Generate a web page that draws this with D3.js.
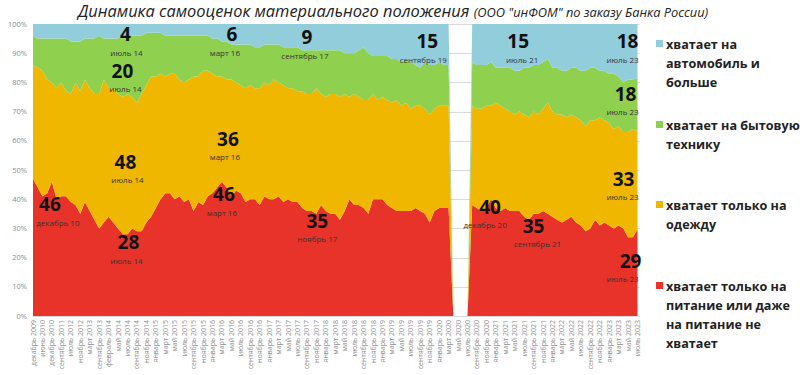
<!DOCTYPE html>
<html>
<head>
<meta charset="utf-8">
<script src="https://cdn.jsdelivr.net/npm/d3@7"></script>
<style>
  body { margin: 0; background: #fff; }
  svg { display: block; font-family: "Open Sans", sans-serif; }
  .grid line { stroke: #d9d9d9; stroke-width: 1; }
  .tick-y { font-size: 7.5px; fill: #8c8c8c; }
  .tick-x { font-size: 7px; fill: #8c8c8c; }
  .num { font-size: 19px; font-weight: 700; fill: #111; }
  .sub { font-size: 8px; fill: #333; }
  .legend text { font-size: 12.6px; font-weight: 700; fill: #222; }
</style>
</head>
<body>
<svg width="800" height="375"></svg>
<script>
// survey dates (labels shown for every second one)
const months = [
  "декабрь 2009","март 2010","июнь 2010","сентябрь 2010","декабрь 2010","май 2011","сентябрь 2011","март 2012","июль 2012","сентябрь 2012",
  "ноябрь 2012","январь 2013","март 2013","июнь 2013","сентябрь 2013","декабрь 2013","февраль 2014","апрель 2014","май 2014","июнь 2014",
  "июль 2014","август 2014","сентябрь 2014","октябрь 2014","ноябрь 2014","декабрь 2014",
  "январь 2015","февраль 2015","март 2015","апрель 2015","май 2015","июнь 2015","июль 2015","август 2015","сентябрь 2015","октябрь 2015","ноябрь 2015","декабрь 2015",
  "январь 2016","февраль 2016","март 2016","апрель 2016","май 2016","июнь 2016","июль 2016","август 2016","сентябрь 2016","октябрь 2016","ноябрь 2016","декабрь 2016",
  "январь 2017","февраль 2017","март 2017","апрель 2017","май 2017","июнь 2017","июль 2017","август 2017","сентябрь 2017","октябрь 2017","ноябрь 2017","декабрь 2017",
  "январь 2018","февраль 2018","март 2018","апрель 2018","май 2018","июнь 2018","июль 2018","август 2018","сентябрь 2018","октябрь 2018","ноябрь 2018","декабрь 2018",
  "январь 2019","февраль 2019","март 2019","апрель 2019","май 2019","июнь 2019","июль 2019","август 2019","сентябрь 2019","октябрь 2019","ноябрь 2019","декабрь 2019",
  "январь 2020","февраль 2020","март 2020","апрель 2020","май 2020","июнь 2020","июль 2020","август 2020","сентябрь 2020","октябрь 2020","ноябрь 2020","декабрь 2020",
  "январь 2021","февраль 2021","март 2021","апрель 2021","май 2021","июнь 2021","июль 2021","август 2021","сентябрь 2021","октябрь 2021","ноябрь 2021","декабрь 2021",
  "январь 2022","февраль 2022","март 2022","апрель 2022","май 2022","июнь 2022","июль 2022","август 2022","сентябрь 2022","октябрь 2022","ноябрь 2022","декабрь 2022",
  "январь 2023","февраль 2023","март 2023","апрель 2023","май 2023","июнь 2023","июль 2023"
];

// shares, % (null = no survey)
const food = [
  47,44,41,42,46,40,41,41,39,38,
  35,39,36,33,30,32,34,32,30,28,
  28,30,29,29,32,34,37,40,42,42,
  40,41,39,40,36,39,38,41,42,44,
  46,44,41,43,42,39,40,40,38,41,
  40,40,41,39,40,39,39,37,36,36,
  35,38,36,35,35,33,36,40,38,38,
  37,35,40,40,40,38,37,36,36,36,
  36,37,36,35,32,36,37,37,37,null,
  null,null,null,38,37,36,37,40,37,36,
  37,36,36,36,34,33,35,35,36,35,
  34,33,32,33,34,32,31,29,30,33,
  31,32,31,30,31,30,27,27,29
];
const clothes = [
  39,41,43,39,34,38,39,36,37,42,
  42,42,42,43,46,49,44,46,46,47,
  48,45,44,47,47,48,45,43,40,41,
  43,40,41,41,46,43,46,43,41,38,
  36,37,40,37,37,39,39,38,40,39,
  39,41,39,40,38,39,38,40,40,40,
  43,38,39,41,41,42,40,35,38,37,
  37,39,36,34,35,36,36,38,36,37,
  35,35,36,36,37,35,35,35,35,null,
  null,null,null,34,34,35,35,32,36,36,
  34,34,33,34,35,35,35,34,35,38,
  36,36,37,35,35,36,36,36,37,34,
  37,35,35,34,34,33,36,37,33
];
const appliances = [
  10,10,11,14,15,17,15,18,18,14,
  17,14,17,19,20,14,17,17,19,21,
  20,21,23,20,18,15,15,14,14,13,
  13,15,16,15,14,14,12,12,12,13,
  12,13,12,13,14,15,14,14,14,13,
  14,12,13,13,14,14,15,14,15,15,
  13,15,16,15,15,16,14,15,14,16,
  18,16,13,15,14,15,15,14,15,15,
  16,14,13,16,17,15,15,14,14,null,
  null,null,null,15,15,15,14,15,12,13,
  14,15,15,14,16,17,16,17,16,15,
  15,16,15,16,16,17,17,19,18,18,
  16,17,17,19,17,17,18,17,18
];
const car = [
  4,5,5,5,5,5,5,5,6,6,
  6,5,5,5,4,5,5,5,5,4,
  4,4,4,4,3,3,3,3,4,4,
  4,4,4,4,4,4,4,4,5,5,
  6,6,7,7,7,7,7,8,8,7,
  7,7,7,8,8,8,8,9,9,9,
  9,9,9,9,9,9,10,10,10,9,
  8,10,11,11,11,11,12,12,13,12,
  13,14,15,13,14,14,13,14,14,null,
  null,null,null,13,14,14,14,13,15,15,
  15,15,16,16,15,15,14,14,13,12,
  15,15,16,16,15,15,16,16,15,15,
  16,16,17,17,18,20,19,19,18
];

const keys = ["food", "clothes", "appliances", "car"];
const colors = { food: "#e8332a", clothes: "#efb700", appliances: "#8fd14f", car: "#92cddc" };
const legendLines = {
  car: ["хватает на", "автомобиль и", "больше"],
  appliances: ["хватает на бытовую", "технику"],
  clothes: ["хватает только на", "одежду"],
  food: ["хватает только на", "питание или даже", "на питание не", "хватает"]
};
const legendOrder = ["car", "appliances", "clothes", "food"];
const legendTop = [49, 130, 210, 291];

const yTicks = [0, .1, .2, .3, .4, .5, .6, .7, .8, .9, 1];

// callouts: value, month caption, survey date, vertical place (share), nudges
const notes = [
  { v: "4",  t: "июль 14",     d: "июль 2014",     at: .962, dx: -2,  tdx: -1 },
  { v: "20", t: "июль 14",     d: "июль 2014",     at: .836, dx: -5,  tdx: -2 },
  { v: "48", t: "июль 14",     d: "июль 2014",     at: .524, dx: -2,  tdx: 0 },
  { v: "28", t: "июль 14",     d: "июль 2014",     at: .25,  dx: 1,   tdx: -1 },
  { v: "46", t: "декабрь 10",  d: "декабрь 2010",  at: .38,  dx: -2,  tdx: 6 },
  { v: "6",  t: "март 16",     d: "март 2016",     at: .962, dx: 10,  tdx: 3 },
  { v: "36", t: "март 16",     d: "март 2016",     at: .603, dx: 6,   tdx: 3 },
  { v: "46", t: "март 16",     d: "март 2016",     at: .414, dx: 2,   tdx: 0 },
  { v: "9",  t: "сентябрь 17", d: "сентябрь 2017", at: .952, dx: 0,   tdx: -2 },
  { v: "35", t: "ноябрь 17",   d: "ноябрь 2017",   at: .322, dx: 1,   tdx: 1 },
  { v: "15", t: "сентябрь 19", d: "сентябрь 2019", at: .938, dx: 7,   tdx: 3 },
  { v: "40", t: "декабрь 20",  d: "декабрь 2020",  at: .37,  dx: -1,  tdx: -6 },
  { v: "15", t: "июль 21",     d: "июль 2021",     at: .938, dx: -6,  tdx: -2 },
  { v: "35", t: "сентябрь 21", d: "сентябрь 2021", at: .305, dx: 0,   tdx: 4 },
  { v: "18", t: "июль 23",     d: "июль 2023",     at: .938, dx: -10, tdx: -15 },
  { v: "18", t: "июль 23",     d: "июль 2023",     at: .757, dx: -12, tdx: -15 },
  { v: "33", t: "июль 23",     d: "июль 2023",     at: .466, dx: -14, tdx: -15 },
  { v: "29", t: "июль 23",     d: "июль 2023",     at: .185, dx: -7,  tdx: -15 }
];

const svg = d3.select("svg");
const plotL = 33, plotR = 637.5, plotT = 24, plotB = 316;

const x = d3.scalePoint().domain(months).range([plotL, plotR]);
const y = d3.scaleLinear().domain([0, 1]).range([plotB, plotT]);

const rows = months.map((m, i) => ({
  m, food: food[i] || 0, clothes: clothes[i] || 0,
  appliances: appliances[i] || 0, car: car[i] || 0
}));
const series = d3.stack().keys(keys).offset(d3.stackOffsetExpand)(rows);

// grid
svg.append("g").attr("class", "grid")
  .selectAll("line").data(yTicks).join("line")
  .attr("x1", plotL).attr("x2", plotR + 2)
  .attr("y1", d => Math.round(y(d)) + .5).attr("y2", d => Math.round(y(d)) + .5);

const area = d3.area()
  .x(d => x(d.data.m))
  .y0(d => y(d[0]))
  .y1(d => y(d[1]));

svg.append("g").selectAll("path").data(series).join("path")
  .attr("fill", d => colors[d.key])
  .attr("d", area);

// y labels
svg.append("g").selectAll("text").data(yTicks).join("text")
  .attr("class", "tick-y")
  .attr("x", 27).attr("y", d => y(d) + 2.5)
  .attr("text-anchor", "end")
  .text(d3.format(".0%"));

// x labels, every second date
svg.append("g").selectAll("text").data(months.filter((m, i) => i % 2 === 0)).join("text")
  .attr("class", "tick-x")
  .attr("transform", d => `translate(${x(d) + 2.5},320) rotate(-90)`)
  .attr("text-anchor", "end")
  .text(d => d);

// callouts
const ng = svg.append("g");
notes.forEach(n => {
  const cx = x(n.d);
  const cy = y(n.at);
  ng.append("text").attr("class", "num")
    .attr("x", cx + n.dx).attr("y", cy + 6)
    .attr("text-anchor", "middle").text(n.v);
  ng.append("text").attr("class", "sub")
    .attr("x", cx + n.tdx).attr("y", cy + 20.5)
    .attr("text-anchor", "middle").text(n.t);
});

// title
const title = svg.append("text").attr("x", 78).attr("y", 17)
  .attr("font-style", "italic").attr("fill", "#222");
title.append("tspan").attr("font-size", "16.4px").text("Динамика самооценок материального положения ");
title.append("tspan").attr("font-size", "12.8px").text("(ООО \"инФОМ\" по заказу Банка России)");

// legend
const lg = svg.append("g").attr("class", "legend");
legendOrder.forEach((k, i) => {
  const by = legendTop[i];
  lg.append("rect").attr("x", 656).attr("y", by - 9).attr("width", 7).attr("height", 7)
    .attr("fill", colors[k]);
  lg.append("text").attr("x", 666).attr("y", by)
    .selectAll("tspan").data(legendLines[k]).join("tspan")
    .attr("x", 666).attr("dy", (d, j) => j ? 19 : 0)
    .text(d => d);
});
</script>
</body>
</html>
